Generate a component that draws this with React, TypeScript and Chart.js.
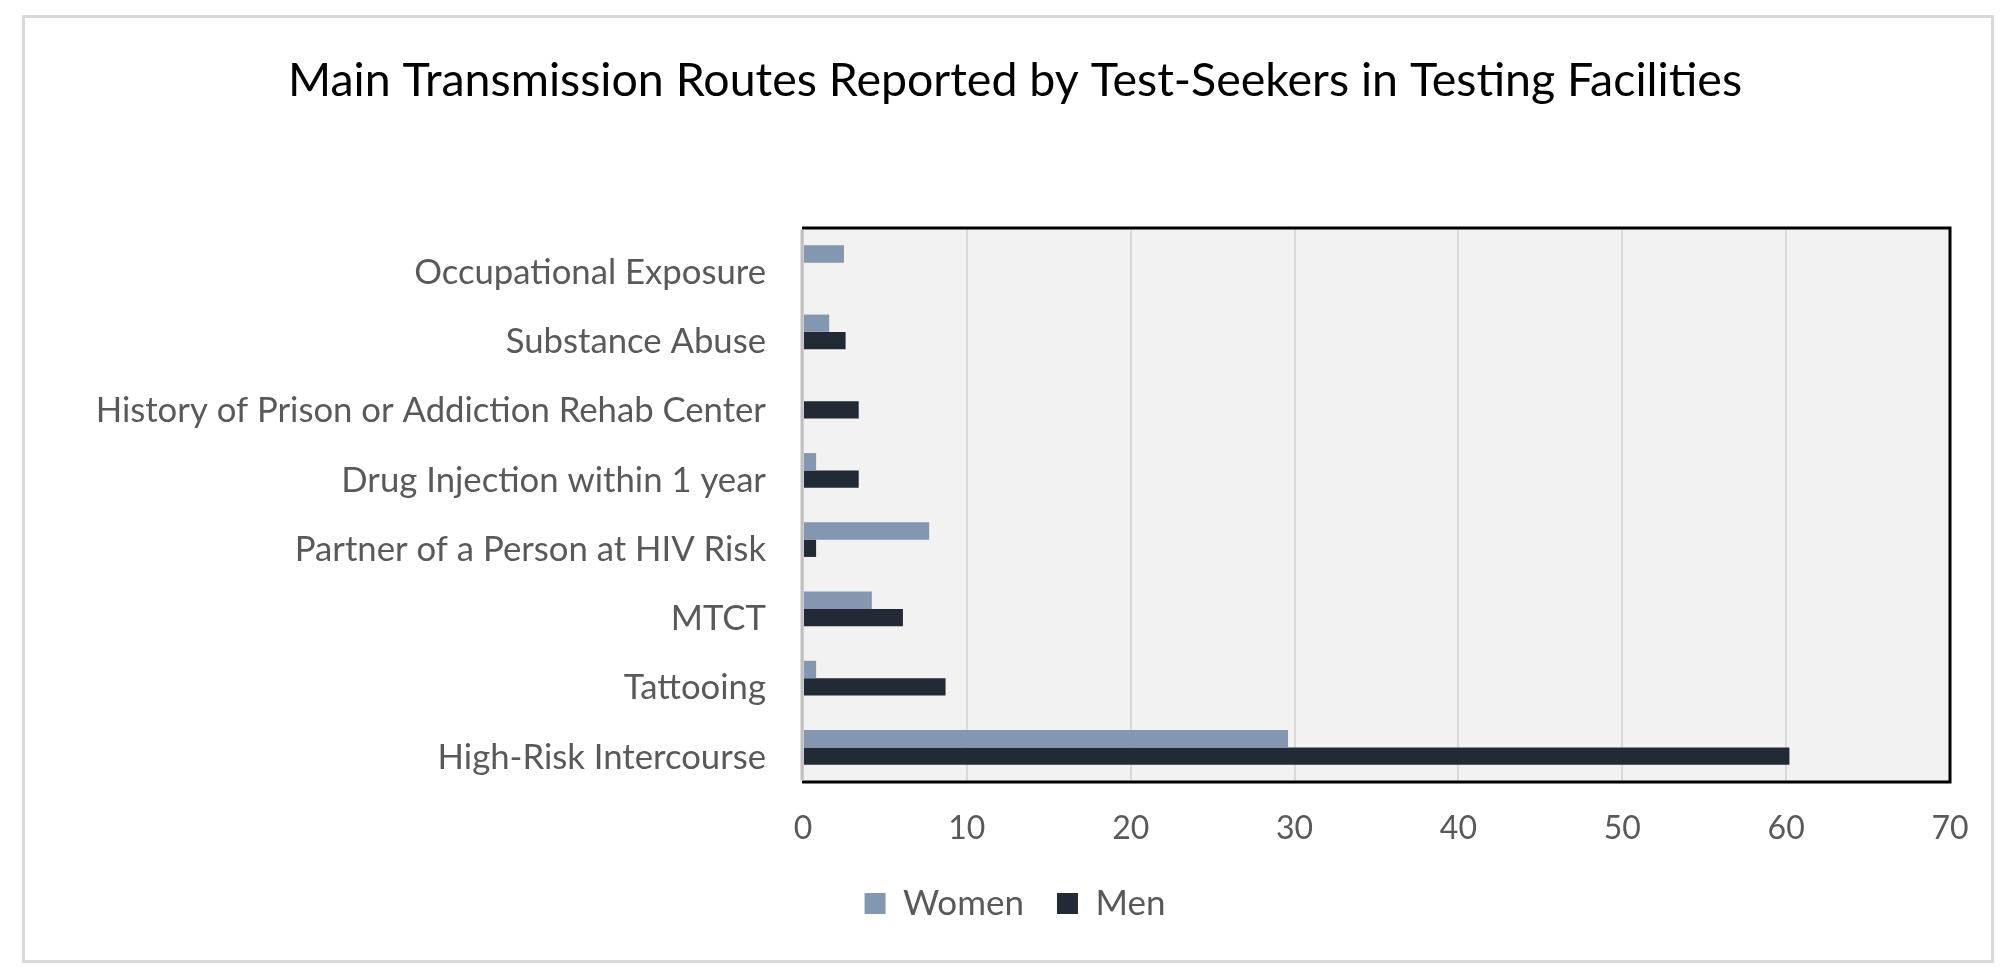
import React, { useEffect, useRef } from "react";
import { Chart, registerables } from "chart.js";

Chart.register(...registerables);

const categories = [
  "Occupational Exposure",
  "Substance Abuse",
  "History of Prison or Addiction Rehab Center",
  "Drug Injection within 1 year",
  "Partner of a Person at HIV Risk",
  "MTCT",
  "Tattooing",
  "High-Risk Intercourse",
];
const women = [2.5, 1.6, 0, 0.8, 7.7, 4.2, 0.8, 29.6];
const men = [0, 2.6, 3.4, 3.4, 0.8, 6.1, 8.7, 60.2];
const xTicks = [0, 10, 20, 30, 40, 50, 60, 70];

const FONT = "Lato, 'Open Sans', sans-serif";

const framePlugin = {
  id: "frame",
  beforeDraw(chart: any) {
    const { ctx, chartArea } = chart;
    ctx.save();
    ctx.fillStyle = "#ffffff";
    ctx.fillRect(0, 0, chart.width, chart.height);
    ctx.strokeStyle = "#D9D9D9";
    ctx.lineWidth = 3;
    ctx.strokeRect(23.5, 16.5, 1969, 945);
    ctx.fillStyle = "#F2F2F2";
    ctx.fillRect(chartArea.left, chartArea.top, chartArea.right - chartArea.left, chartArea.bottom - chartArea.top);
    ctx.restore();
  },
  afterDraw(chart: any) {
    const { ctx, chartArea } = chart;
    const { left, right, top, bottom } = chartArea;
    ctx.save();
    ctx.strokeStyle = "#000000";
    ctx.lineWidth = 3;
    ctx.beginPath();
    ctx.moveTo(left - 1, top);
    ctx.lineTo(right, top);
    ctx.lineTo(right, bottom);
    ctx.lineTo(left - 1, bottom);
    ctx.stroke();
    ctx.strokeStyle = "#BFBFBF";
    ctx.lineWidth = 3;
    ctx.beginPath();
    ctx.moveTo(left - 1, top + 1.5);
    ctx.lineTo(left - 1, bottom - 1.5);
    ctx.stroke();
    ctx.restore();
  },
};

export default function App() {
  const ref = useRef<HTMLCanvasElement>(null);
  useEffect(() => {
    document.body.style.margin = "0";
    const chart = new Chart(ref.current as HTMLCanvasElement, {
      type: "bar",
      data: {
        labels: categories,
        datasets: [
          {
            label: "Women",
            data: women,
            backgroundColor: "#8497B0",
            borderWidth: 0,
            categoryPercentage: 0.5,
            barPercentage: 1,
          },
          {
            label: "Men",
            data: men,
            backgroundColor: "#222A35",
            borderWidth: 0,
            categoryPercentage: 0.5,
            barPercentage: 1,
          },
        ],
      },
      options: {
        indexAxis: "y",
        responsive: false,
        animation: false,
        layout: { padding: { left: 80, right: 58, top: 0, bottom: 46 } },
        plugins: {
          title: {
            display: true,
            text: "Main Transmission Routes Reported by Test-Seekers in Testing Facilities",
            color: "#000000",
            font: { family: FONT, size: 46.5, weight: "normal" },
            padding: { top: 53, bottom: 119.2 },
          },
          legend: {
            position: "bottom",
            labels: {
              color: "#595959",
              font: { family: FONT, size: 35 },
              boxWidth: 21,
              boxHeight: 21,
              padding: 33,
            },
          },
          tooltip: { enabled: false },
        },
        scales: {
          x: {
            min: 0,
            max: 70,
            afterBuildTicks(scale: any) {
              scale.ticks = xTicks.map((v) => ({ value: v }));
            },
            afterFit(scale: any) {
              scale.height = 71;
            },
            grid: { color: "#D9D9D9", lineWidth: 2, drawTicks: false },
            border: { display: false },
            ticks: {
              color: "#595959",
              font: { family: FONT, size: 32 },
              padding: 27,
            },
          },
          y: {
            afterFit(scale: any) {
              scale.width = 723;
            },
            grid: { display: false, drawTicks: false },
            border: { display: false },
            ticks: {
              color: "#595959",
              font: { family: FONT, size: 34.7 },
              padding: 37,
              labelOffset: 10,
            },
          },
        },
      },
      plugins: [framePlugin],
    });
    return () => chart.destroy();
  }, []);
  return (
    <div style={{ position: "absolute", left: 0, top: 0, width: 2008, height: 977 }}>
      <canvas ref={ref} width={2008} height={977} style={{ width: 2008, height: 977 }} />
    </div>
  );
}
